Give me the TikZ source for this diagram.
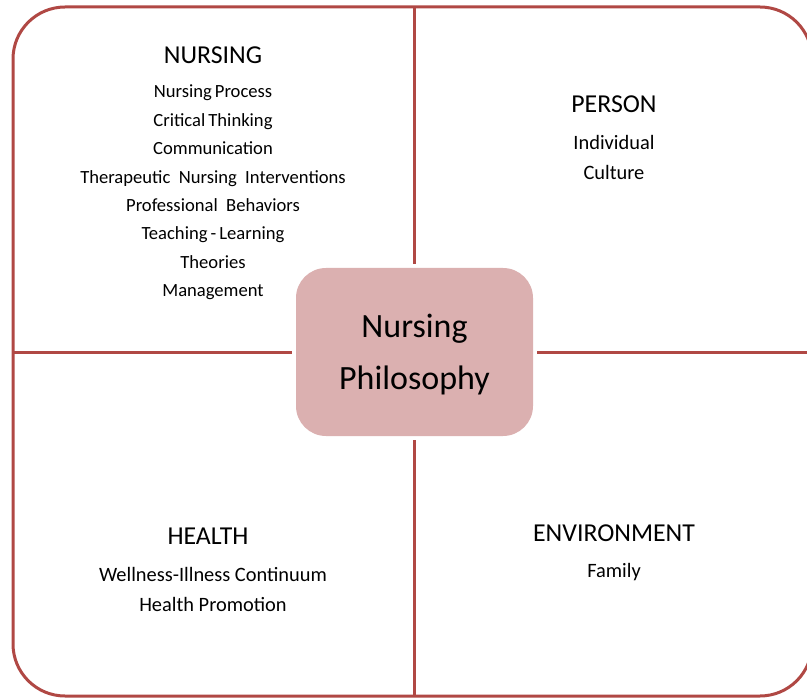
\documentclass[tikz,border=0pt]{standalone}
\usepackage{fontspec}
\setmainfont{Carlito}
\begin{document}
\definecolor{frame}{RGB}{176,72,68}
\definecolor{corefill}{RGB}{219,176,176}
\begin{tikzpicture}[x=1pt,y=-1pt,
  divider/.style={draw=frame,line width=3pt},
  head/.style={font=\fontsize{25.8}{30}\selectfont,inner sep=0pt,anchor=center},
  items/.style={font=\fontsize{18.6}{28.4}\selectfont,align=center,inner sep=0pt,anchor=center},
  bigitems/.style={font=\fontsize{20.4}{30}\selectfont,align=center,inner sep=0pt,anchor=center},
  corebox/.style={fill=corefill,draw=none,rounded corners=30pt,minimum width=237pt,minimum height=168pt,
    font=\fontsize{34}{52}\selectfont,align=center}]
  \useasboundingbox (0,0) rectangle (807,698);
  \clip (0,0) rectangle (807,698);

  % outer frame
  \draw[divider,rounded corners=52pt] (13,7) rectangle (812,696);

  % central concept
  \node[corebox] (core) at (414.5,352) {};
  \node[font=\fontsize{34}{52}\selectfont,align=center] (coretext) at (414.5,354.5) {Nursing\\Philosophy};

  % frame points where the dividers meet
  \coordinate (topmid) at (414.5,7);
  \coordinate (botmid) at (414.5,696);
  \coordinate (leftmid) at (13,352);
  \coordinate (rightmid) at (812,352);

  % quadrant dividers
  \draw[divider] (topmid) -- ([yshift=3.5pt]core.north);
  \draw[divider] (botmid) -- ([yshift=-3.5pt]core.south);
  \draw[divider] (leftmid) -- ([xshift=-3.5pt]core.west);
  \draw[divider] (rightmid) -- ([xshift=3.5pt]core.east);

  % nursing quadrant
  \node[head] (nursing) at (213,55) {NURSING};
  \node[items] (nursinglist) at (213,192.5) {Nursing\,Process\\Critical\,Thinking\\Communication\\Therapeutic~ Nursing~ Interventions\\Professional~ Behaviors\\Teaching\,-\,Learning\\Theories\\Management};

  % person quadrant
  \node[head] (person) at (614,104) {PERSON};
  \node[bigitems] (personlist) at (614,157) {Individual\\Culture};

  % health quadrant
  \node[head] (health) at (208,536) {HEALTH};
  \node[bigitems] (healthlist) at (213,589) {Wellness-Illness Continuum\\Health Promotion};

  % environment quadrant
  \node[head] (environment) at (614,533) {ENVIRONMENT};
  \node[bigitems] (environmentlist) at (614,572) {Family};
\end{tikzpicture}
\end{document}
